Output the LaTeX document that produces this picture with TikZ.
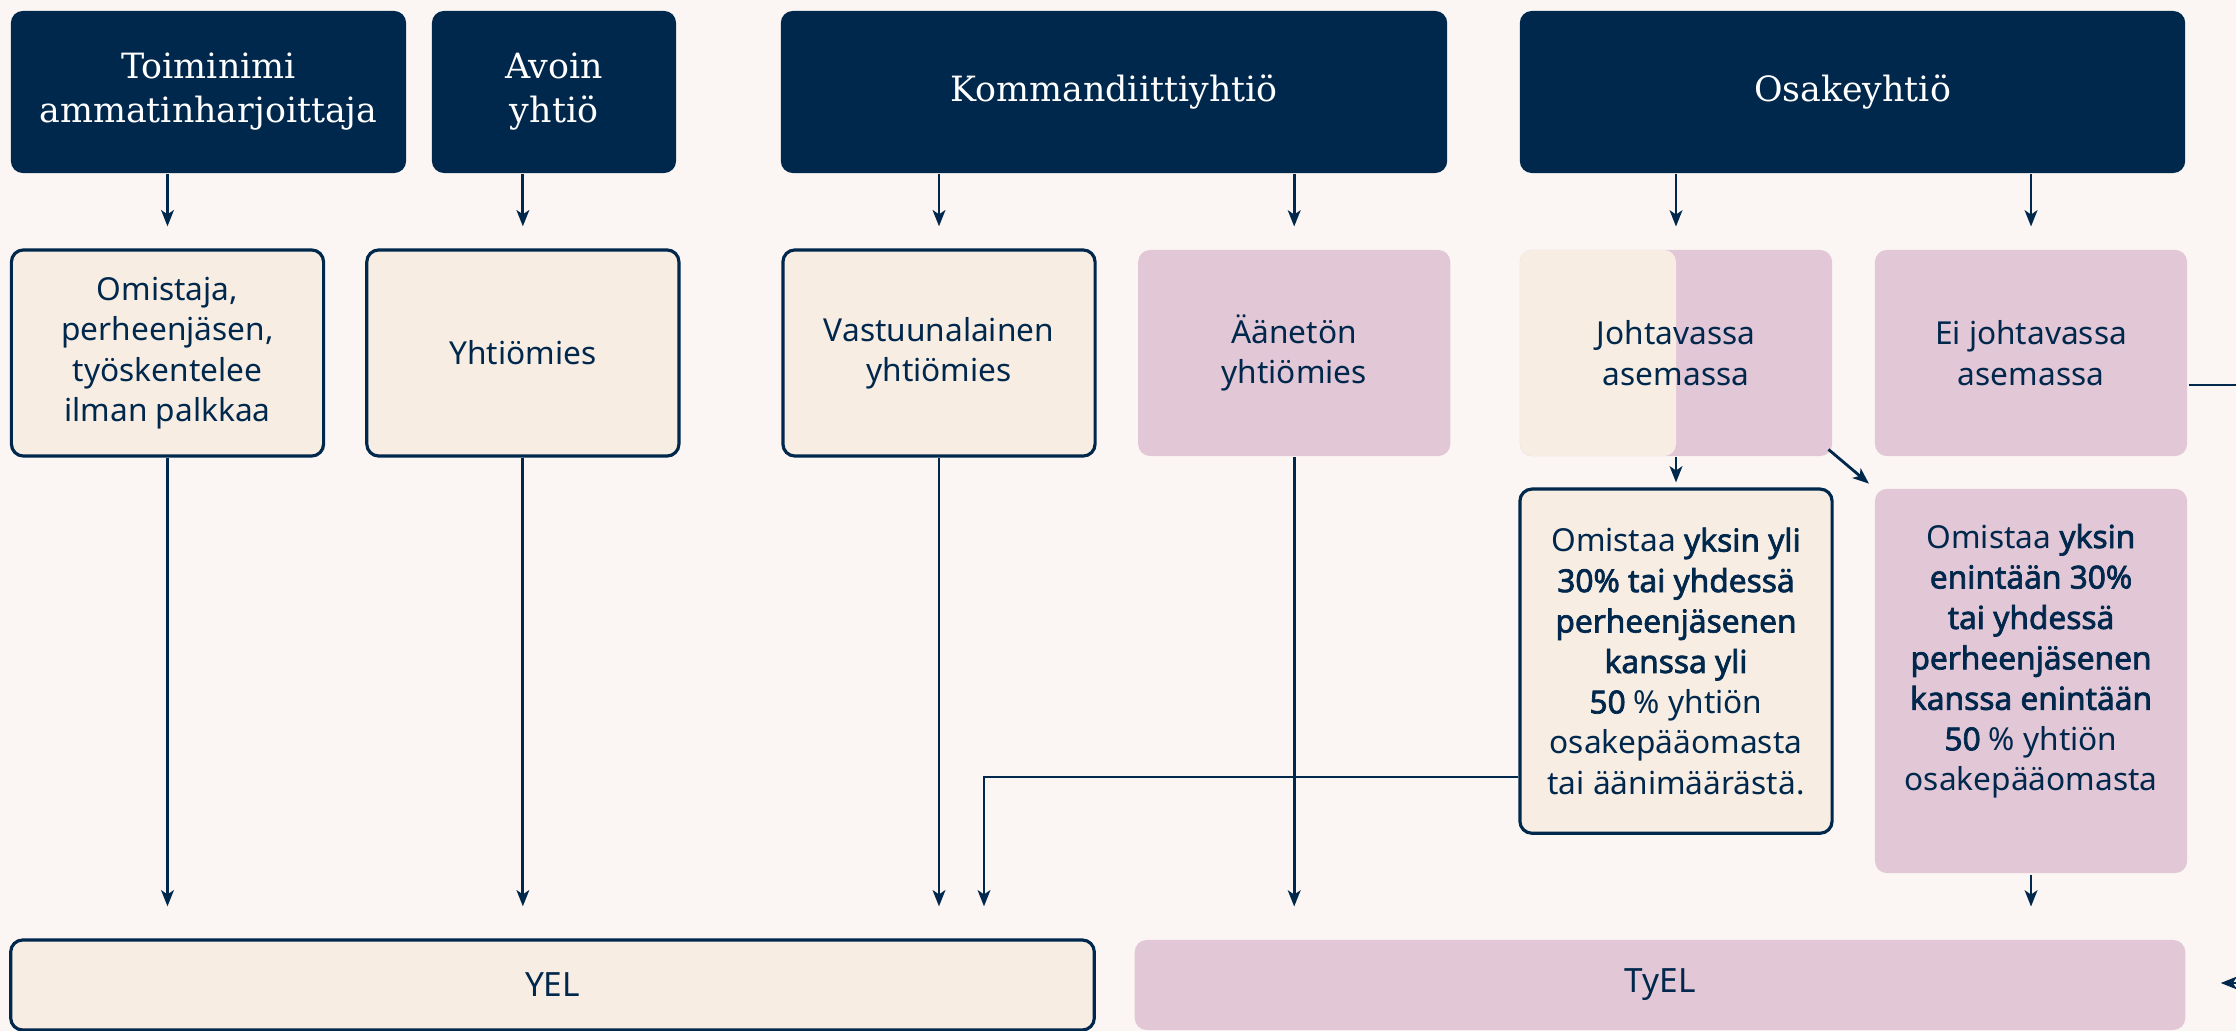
\documentclass[tikz,border=0pt]{standalone}
\usepackage{fontspec}
\setmainfont{Noto Sans}[AutoFakeBold=2.2]
\newfontfamily\headfont{DejaVu Serif}
\usetikzlibrary{arrows.meta,positioning}

\definecolor{navy}{RGB}{0,39,76}
\definecolor{sand}{RGB}{247,237,227}
\definecolor{rose}{RGB}{226,199,214}
\definecolor{paper}{RGB}{251,246,243}

\begin{document}
\begin{tikzpicture}[x=0.01cm,y=-0.01cm,>={Stealth[length=4.6pt,width=3.6pt,inset=1.2pt]},
        line width=0.8pt,draw=navy,node distance=0.4cm,
        head/.style={fill=navy,text=white,rounded corners=0.12cm,align=center,inner sep=0pt,
            minimum height=1.62cm,font=\headfont\fontsize{9.9}{12.5}\selectfont},
        card/.style={rounded corners=0.12cm,align=center,inner sep=0pt,text=navy,
            minimum width=3.12cm,minimum height=2.06cm,font=\fontsize{9}{11.5}\selectfont},
        sandcard/.style={card,fill=sand,draw=navy,line width=0.9pt},
        rosecard/.style={card,fill=rose},
        law/.style={rounded corners=0.12cm,inner sep=0pt,text=navy,
            minimum height=0.9cm,font=\fontsize{9.5}{12}\selectfont}]
        \useasboundingbox (0,0) rectangle (2236,1031);
        \fill[paper] (0,0) rectangle (2236,1031);

        % yritysmuodot
        \node[head,minimum width=3.95cm] (h1) at (208.5,92) {Toiminimi\\ammatinharjoittaja};
        \node[head,minimum width=2.44cm] (h2) at (554,92) {Avoin\\yhtiö};
        \node[head,minimum width=6.66cm] (h3) at (1114,92) {Kommandiittiyhtiö};
        \node[head,minimum width=6.65cm] (h4) at (1852.5,92) {Osakeyhtiö};

        % asema yrityksessä
        \node[sandcard] (r1) at (167.5,353) {Omistaja,\\perheenjäsen,\\työskentelee\\ilman palkkaa};
        \node[sandcard] (r2) [right=of r1] {Yhtiömies};
        \node[sandcard] (r3) at (939,353) {Vastuunalainen\\yhtiömies};
        \node[rosecard] (r4) [right=of r3] {Äänetön\\yhtiömies};
        \node[rosecard,path picture={\fill[sand,rounded corners=0.12cm]
            (path picture bounding box.north west) rectangle (path picture bounding box.south);}]
            (j) at (1676,353) {Johtavassa\\asemassa};
        \node[rosecard] (r6) [right=of j] {Ei johtavassa\\asemassa};

        % omistusosuus
        \node[sandcard,minimum height=3.44cm] (a) [below=0.3cm of j]
            {Omistaa \textbf{yksin yli}\\\textbf{30\% tai yhdessä}\\\textbf{perheenjäsenen}\\
             \textbf{kanssa yli}\\\textbf{50} \% yhtiön\\osakepääomasta\\tai äänimäärästä.};
        \node[rosecard,minimum height=3.84cm] (b) [below=0.3cm of r6] {};
        \node[card] at (a.center -| b.center)
            {Omistaa \textbf{yksin}\\\textbf{enintään 30\%}\\\textbf{tai yhdessä}\\\textbf{perheenjäsenen}\\
             \textbf{kanssa enintään}\\\textbf{50} \% yhtiön\\osakepääomasta};

        % eläkelait
        \node[law,fill=sand,draw=navy,line width=0.9pt,minimum width=10.83cm] (yel) at (552.5,985) {YEL};
        \node[law,fill=rose,minimum width=10.5cm] (tyel) at (1660,985) {TyEL};

        \coordinate (akink) at (984,777);
        \coordinate (eout) at (2236,385);
        \coordinate (ein) at (2236,983);

        \foreach \h/\r in {h1/r1,h2/r2,h3/r3,h3/r4,h4/j,h4/r6}
            \draw[->,shorten >=0.22cm] (\h.south -| \r) -- (\r.north);
        \foreach \r/\t in {r1/yel,r2/yel,r3/yel,r4/tyel,b/tyel}
            \draw[->,shorten >=0.32cm] (\r.south) -- (\r |- \t.north);

        \draw[->,shorten >=0.05cm] (j.south) -- (a.north);
        \draw[->,shorten >=0.06cm] ([shift={(-0.05cm,0.08cm)}]j.south east) -- (b.north west);
        \draw[->,shorten >=0.32cm] (a.west |- akink) -- (akink) -- (akink |- yel.north);
        \draw (r6.east |- eout) -- (eout);
        \draw[->,shorten >=0.34cm] (ein) -- (tyel.east |- ein);
    \end{tikzpicture}
\end{document}
